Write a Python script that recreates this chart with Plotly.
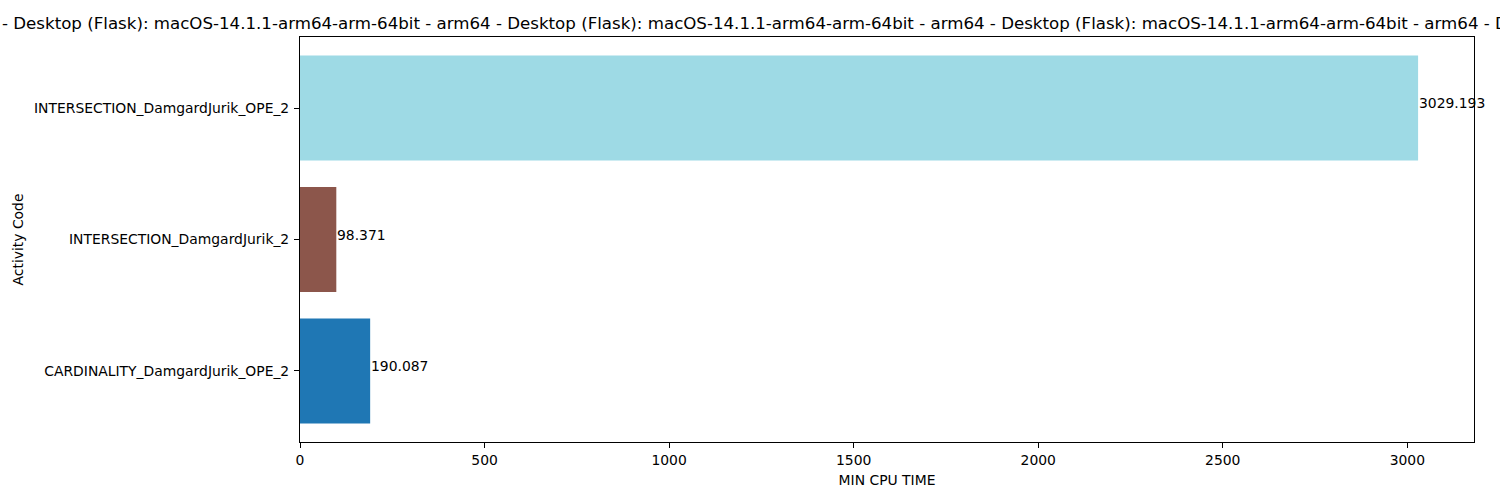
import plotly.graph_objects as go

categories = [
    "CARDINALITY_DamgardJurik_OPE_2",
    "INTERSECTION_DamgardJurik_2",
    "INTERSECTION_DamgardJurik_OPE_2",
]
values = [190.087, 98.371, 3029.193]
colors = ["#1f77b4", "#8c564b", "#9edae5"]
x_ticks = [0, 500, 1000, 1500, 2000, 2500, 3000]
title_segment = "- Desktop (Flask): macOS-14.1.1-arm64-arm-64bit - arm64 "
title_text = title_segment * 4

FONT = "DejaVu Sans"
fig = go.Figure()
fig.add_trace(go.Bar(
    x=values, y=categories, orientation="h",
    marker=dict(color=colors, line=dict(width=0)),
    showlegend=False, hoverinfo="skip",
))
for v, c in zip(values, categories):
    fig.add_annotation(
        x=v, y=c, xref="x", yref="y", text=str(v),
        showarrow=False, xanchor="left", yanchor="middle", xshift=-1.5, yshift=5,
        font=dict(family=FONT, size=13.9, color="black"),
    )

fig.update_layout(
    width=1500, height=500,
    margin=dict(l=300, r=26, t=37, b=58),
    plot_bgcolor="white", paper_bgcolor="white",
    font=dict(family=FONT, size=13.9, color="black"),
    bargap=0.2,
    title=dict(
        text=title_text, xref="container", x=0, xanchor="left",
        yref="container", y=1 - 23 / 500, yanchor="middle",
        pad=dict(l=2, r=0, t=0, b=0),
        font=dict(family=FONT, size=16.65, color="black"),
    ),
    xaxis=dict(
        range=[0, 3029.193 * 1.05], tickvals=x_ticks, ticktext=[str(t) for t in x_ticks],
        showgrid=False, zeroline=False, showline=True, mirror=True,
        linecolor="black", linewidth=1, ticks="outside", ticklen=5, tickwidth=1,
        tickcolor="black", tickfont=dict(family=FONT, size=13.9, color="black"),
        title=dict(text="MIN CPU TIME", standoff=8, font=dict(family=FONT, size=13.9, color="black")),
    ),
    yaxis=dict(
        type="category", categoryorder="array", categoryarray=categories,
        range=[-0.54, 2.54],
        showgrid=False, zeroline=False, showline=True, mirror=True,
        linecolor="black", linewidth=1, ticks="outside", ticklen=5, tickwidth=1,
        tickcolor="black", tickfont=dict(family=FONT, size=13.9, color="black"),
        ticklabelstandoff=2,
        title=dict(text="Activity Code", standoff=7, font=dict(family=FONT, size=13.9, color="black")),
    ),
)
fig.write_html("out.html")
